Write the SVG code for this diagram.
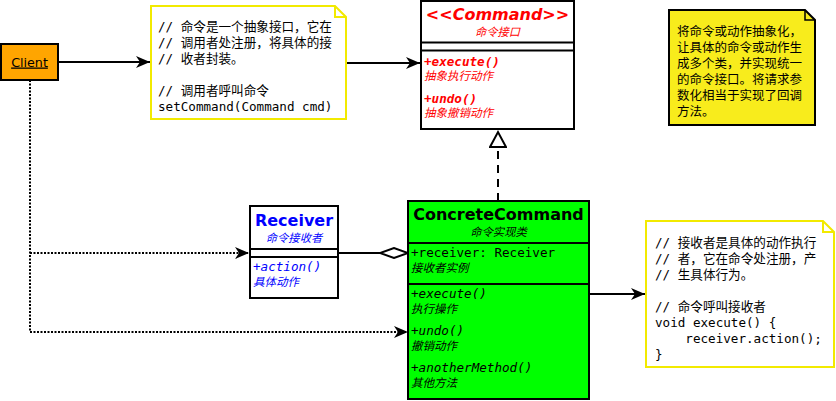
<svg xmlns="http://www.w3.org/2000/svg" width="836" height="401" viewBox="0 0 836 401">
<style>
.box{stroke:#000;stroke-width:2}
.ln{stroke:#000;stroke-width:2;fill:none}
.dot{stroke:#000;stroke-width:2;fill:none;stroke-dasharray:2 1.5}
.mono{font-family:"DejaVu Sans Mono","Liberation Mono","Noto Sans CJK SC",monospace;font-size:12.6px}
.sans{font-family:"DejaVu Sans","Noto Sans CJK SC",sans-serif}
.title{font-family:"DejaVu Sans","Noto Sans CJK SC",sans-serif;font-size:16px;font-weight:bold}
.sub{font-family:"DejaVu Sans","Noto Sans CJK SC",sans-serif;font-size:11.3px;font-style:italic}
.meth{font-family:"DejaVu Sans Mono","Liberation Mono",monospace;font-size:12.6px;font-style:italic}
.desc{font-family:"DejaVu Sans","Noto Sans CJK SC",sans-serif;font-size:11.5px;font-style:italic}
</style>
<defs>
<marker id="arr" markerUnits="userSpaceOnUse" markerWidth="15" markerHeight="13" refX="14" refY="6.5" orient="auto">
<path d="M0,0.5 L14,6.5 L0,12.5 L4,6.5 z" fill="#000"/>
</marker>
<marker id="tri" markerUnits="userSpaceOnUse" markerWidth="20" markerHeight="18" refX="16" refY="9" orient="auto">
<path d="M1,1 L16,9 L1,17 z" fill="#fff" stroke="#000" stroke-width="2"/>
</marker>
<marker id="dia" markerUnits="userSpaceOnUse" markerWidth="30" markerHeight="12" refX="28" refY="6" orient="auto">
<path d="M0,6 L14,1 L28,6 L14,11 z" fill="#fff" stroke="#000" stroke-width="2"/>
</marker>
</defs>

<g id="connectors">
<line class="ln" x1="58" y1="62" x2="150" y2="62" marker-end="url(#arr)"/>
<line class="ln" x1="347" y1="63" x2="420" y2="63" marker-end="url(#arr)"/>
<line class="ln" x1="498" y1="201" x2="498" y2="132" stroke-dasharray="8 6" marker-end="url(#tri)"/>
<line class="ln" x1="338" y1="253" x2="408" y2="253" marker-end="url(#dia)"/>
<polyline class="dot" points="30,80 30,332 406,332"/>
<line class="dot" x1="30" y1="253" x2="248" y2="253"/>
<path d="M235,247 L249,253 L235,259 L239,253 z" fill="#000"/>
<path d="M394,326 L408,332 L394,338 L398,332 z" fill="#000"/>
<line class="ln" x1="589" y1="294" x2="645" y2="294" marker-end="url(#arr)"/>
</g>

<g id="client">
<rect class="box" x="1" y="44" width="57" height="36" fill="#ffa500"/>
<text class="sans" x="29.5" y="66.5" font-size="12.7" text-anchor="middle" text-decoration="underline">Client</text>
</g>

<g id="note1">
<path d="M151,6 L335,6 L346,17 L346,119 L151,119 z" fill="#fff" stroke="#f2ea00" stroke-width="2"/>
<path d="M335,6 L335,17 L346,17" fill="none" stroke="#f2ea00" stroke-width="2"/>
<g class="mono">
<text x="158" y="31">// 命令是一个抽象接口，它在</text>
<text x="158" y="47">// 调用者处注册，将具体的接</text>
<text x="158" y="63">// 收者封装。</text>
<text x="158" y="95">// 调用者呼叫命令</text>
<text x="158" y="111">setCommand(Command cmd)</text>
</g>
</g>

<g id="command">
<rect class="box" x="421" y="1" width="153" height="128" fill="#fff"/>
<line class="ln" x1="421" y1="42.5" x2="574" y2="42.5"/>
<line class="ln" x1="421" y1="50.5" x2="574" y2="50.5"/>
<text class="title" x="497.5" y="20" text-anchor="middle" font-style="italic" fill="#ff0000">&lt;&lt;Command&gt;&gt;</text>
<text class="sub" x="497.5" y="36" text-anchor="middle" fill="#ff0000">命令接口</text>
<text class="meth" x="424" y="65.5" fill="#ff0000" font-weight="bold">+execute()</text>
<text class="desc" x="424" y="80" fill="#ff0000">抽象执行动作</text>
<text class="meth" x="424" y="102.5" fill="#ff0000" font-weight="bold">+undo()</text>
<text class="desc" x="424" y="117" fill="#ff0000">抽象撤销动作</text>
</g>

<g id="note2">
<path d="M669,10 L805,10 L815,20 L815,125 L669,125 z" fill="#f8ec1c" stroke="#000" stroke-width="2"/>
<path d="M805,10 L805,20 L815,20" fill="none" stroke="#000" stroke-width="1.5"/>
<g class="sans" font-size="12.5">
<text x="677" y="36">将命令或动作抽象化，</text>
<text x="677" y="52">让具体的命令或动作生</text>
<text x="677" y="68">成多个类，并实现统一</text>
<text x="677" y="84">的命令接口。将请求参</text>
<text x="677" y="100">数化相当于实现了回调</text>
<text x="677" y="116">方法。</text>
</g>
</g>

<g id="receiver">
<rect class="box" x="250" y="206" width="88" height="92" fill="#fff"/>
<line class="ln" x1="250" y1="249" x2="338" y2="249"/>
<line class="ln" x1="250" y1="257" x2="338" y2="257"/>
<text class="title" x="294" y="226" text-anchor="middle" fill="#0000ff">Receiver</text>
<text class="sub" x="294" y="242" text-anchor="middle" fill="#0000ff">命令接收者</text>
<text class="meth" x="253" y="271" fill="#0000ff">+action()</text>
<text class="desc" x="253" y="286" fill="#0000ff">具体动作</text>
</g>

<g id="concreteCommand">
<rect class="box" x="408" y="201" width="181" height="198" fill="#00ff00"/>
<line class="ln" x1="408" y1="243" x2="589" y2="243"/>
<line class="ln" x1="408" y1="284" x2="589" y2="284"/>
<text class="title" x="498.5" y="220" text-anchor="middle">ConcreteCommand</text>
<text class="sub" x="498.5" y="236" text-anchor="middle">命令实现类</text>
<text class="mono" x="411" y="257">+receiver: Receiver</text>
<text class="desc" x="411" y="272">接收者实例</text>
<text class="meth" x="411" y="298">+execute()</text>
<text class="desc" x="411" y="313">执行操作</text>
<text class="meth" x="411" y="335">+undo()</text>
<text class="desc" x="411" y="350">撤销动作</text>
<text class="meth" x="411" y="372">+anotherMethod()</text>
<text class="desc" x="411" y="387">其他方法</text>
</g>

<g id="note3">
<path d="M646,221 L823,221 L834,232 L834,367 L646,367 z" fill="#fff" stroke="#f2ea00" stroke-width="2"/>
<path d="M823,221 L823,232 L834,232" fill="none" stroke="#f2ea00" stroke-width="2"/>
<g class="mono">
<text x="655" y="246.5">// 接收者是具体的动作执行</text>
<text x="655" y="262.5">// 者，它在命令处注册，产</text>
<text x="655" y="278.5">// 生具体行为。</text>
<text x="655" y="310.5">// 命令呼叫接收者</text>
<text x="655" y="326.5">void execute() {</text>
<text x="655" y="342.5" xml:space="preserve">    receiver.action();</text>
<text x="655" y="358.5">}</text>
</g>
</g>
</svg>
